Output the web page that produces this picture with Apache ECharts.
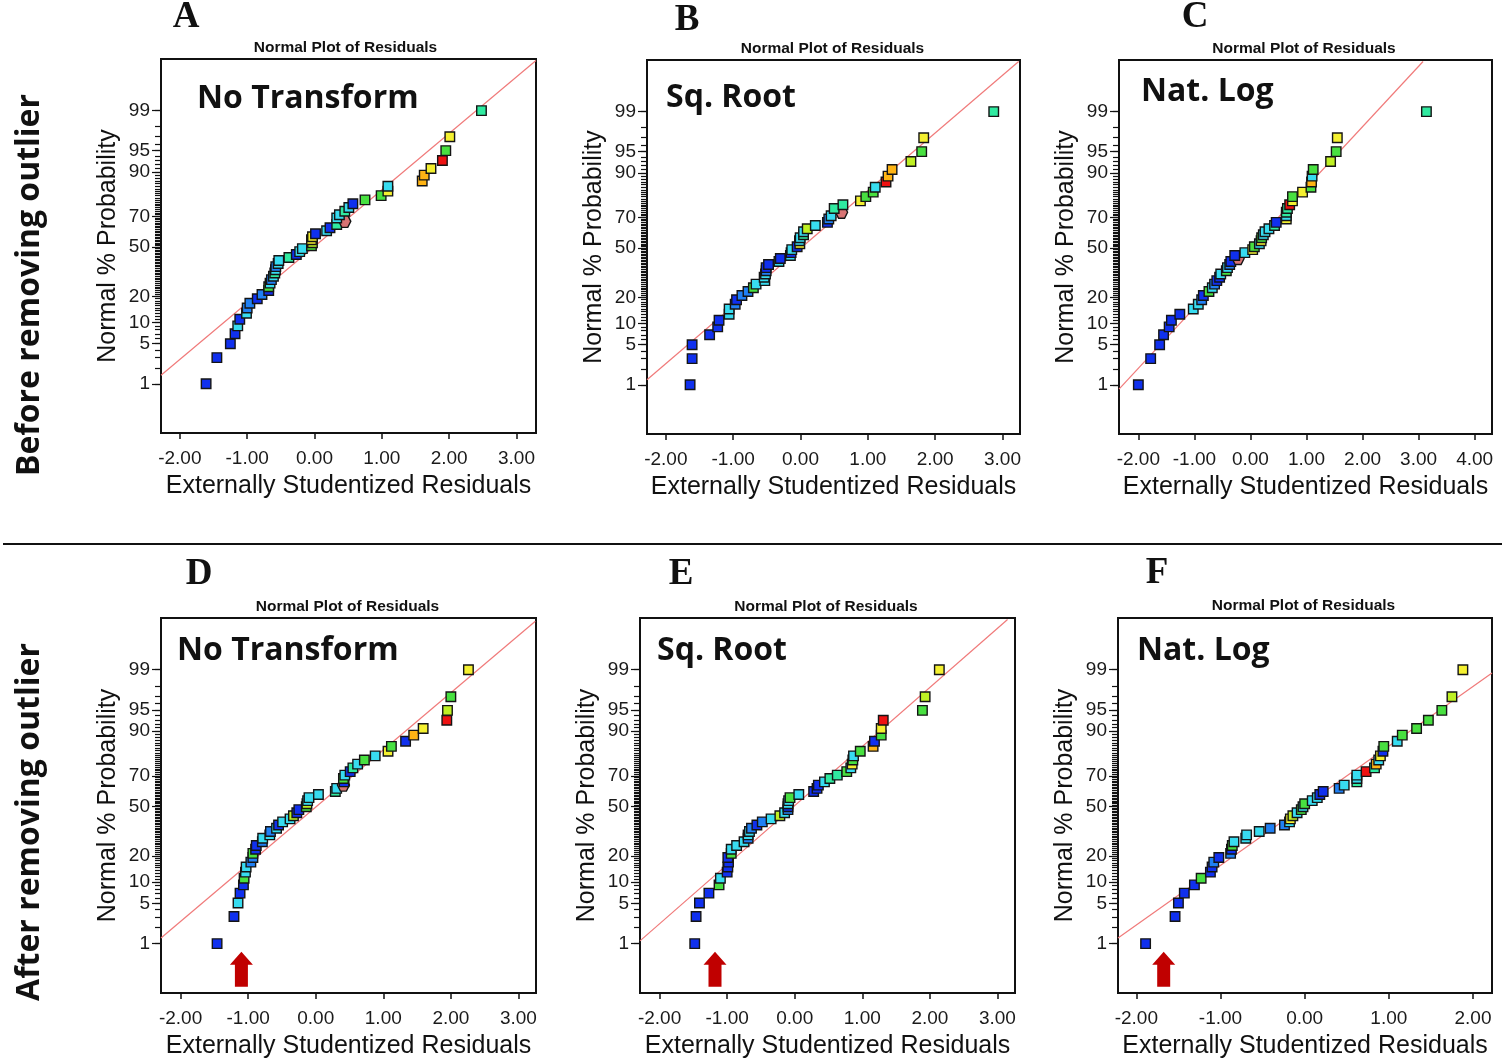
<!DOCTYPE html>
<html><head><meta charset="utf-8">
<script src="https://cdn.jsdelivr.net/npm/echarts@6/dist/echarts.min.js"></script>
<style>html,body{margin:0;padding:0;background:#fff}#c{width:1506px;height:1063px}</style>
</head><body><div id="c"></div>
<script>
// ---------------- DATA ----------------
const pctTop = [1,3,5,7,9,11,13,15,17,19,21,23,25,27,29,31,33,35,37,39,41,43,45,47,49,51,53,55,57,59,61,63,65,67,69,71,73,75,77,79,81,83,85,87,89,91,93,95,97,99];
const pctBottom = [1.0,3.1,5.1,7.1,9.2,11.2,13.3,15.3,17.3,19.4,21.4,23.5,25.5,27.6,29.6,31.6,33.7,35.7,37.8,39.8,41.8,43.9,45.9,48.0,50.0,52.0,54.1,56.1,58.2,60.2,62.2,64.3,66.3,68.4,70.4,72.4,74.5,76.5,78.6,80.6,82.7,84.7,86.7,88.8,90.8,92.9,94.9,96.9,99.0];

const residA = [-1.61,-1.45,-1.25,-1.18,-1.14,-1.11,-1.01,-1.00,-0.96,-0.85,-0.78,-0.68,-0.68,-0.66,-0.64,-0.61,-0.59,-0.58,-0.575,-0.54,-0.53,-0.38,-0.27,-0.22,-0.18,-0.045,-0.03,-0.045,-0.03,0.015,0.18,0.23,0.33,0.45,0.33,0.37,0.45,0.51,0.57,0.75,0.99,1.09,1.09,1.60,1.63,1.73,1.90,1.95,2.01,2.48];
const colorA = [0,0,0,0,2,0,2,1,1,0,1,0,4,2,1,2,3,2,1,2,2,3,0,2,2,4,5,6,6,0,2,0,3,9,2,2,3,2,0,4,4,6,2,7,7,6,8,4,6,3];

const residB = [-1.64,-1.61,-1.61,-1.35,-1.23,-1.21,-1.06,-1.06,-0.97,-0.95,-0.87,-0.78,-0.70,-0.66,-0.53,-0.54,-0.52,-0.51,-0.51,-0.475,-0.32,-0.30,-0.15,-0.14,-0.13,-0.05,-0.01,-0.015,-0.005,0.045,0.045,0.10,0.22,0.40,0.42,0.455,0.61,0.50,0.63,0.89,0.97,1.08,1.11,1.27,1.30,1.36,1.64,1.80,1.83,2.87];
const colorB = [0,0,0,0,0,0,2,2,1,0,1,1,4,2,2,2,2,1,0,0,2,0,2,0,2,0,6,2,2,3,2,5,2,0,1,2,9,3,3,6,4,4,2,8,7,7,5,4,6,3];

const residC = [-2.0,-1.78,-1.62,-1.55,-1.45,-1.41,-1.26,-1.02,-0.93,-0.87,-0.84,-0.74,-0.68,-0.64,-0.60,-0.55,-0.53,-0.43,-0.41,-0.37,-0.35,-0.22,-0.28,-0.10,0.04,0.07,0.16,0.19,0.20,0.23,0.26,0.33,0.43,0.46,0.64,0.64,0.64,0.66,0.70,0.75,0.75,0.93,1.08,1.09,1.10,1.12,1.43,1.53,1.55,3.14];
const colorC = [0,0,0,0,0,0,0,2,2,1,0,4,2,1,0,0,2,4,2,1,0,9,0,2,6,4,2,6,4,2,2,2,3,0,6,2,3,3,8,6,4,6,4,7,2,4,5,4,6,3];

const residD = [-1.46,-1.21,-1.15,-1.12,-1.07,-1.06,-1.04,-1.03,-0.96,-0.93,-0.93,-0.89,-0.88,-0.79,-0.785,-0.68,-0.67,-0.58,-0.55,-0.49,-0.38,-0.33,-0.28,-0.25,-0.14,-0.13,-0.12,-0.10,0.04,0.29,0.31,0.41,0.42,0.41,0.43,0.51,0.55,0.62,0.72,0.88,1.07,1.12,1.33,1.45,1.59,1.94,1.95,2.00,2.26];
const colorD = [0,0,2,0,0,4,2,2,1,1,4,0,0,1,2,2,1,2,0,2,2,5,0,0,4,5,2,2,2,3,2,9,0,4,2,0,3,2,4,2,6,4,0,7,6,8,5,4,6];

const residE = [-1.48,-1.46,-1.41,-1.27,-1.12,-1.10,-1.00,-0.99,-0.98,-0.99,-0.94,-0.94,-0.86,-0.75,-0.69,-0.69,-0.67,-0.64,-0.56,-0.48,-0.35,-0.22,-0.15,-0.10,-0.10,-0.10,-0.09,-0.07,0.06,0.28,0.33,0.35,0.44,0.52,0.63,0.77,0.83,0.85,0.86,0.87,0.97,1.16,1.18,1.28,1.28,1.31,1.89,1.93,2.14];
const colorE = [0,0,0,0,4,2,0,0,0,0,4,2,2,2,1,2,2,1,0,1,2,5,2,1,0,2,2,4,2,0,0,0,2,3,3,4,2,6,4,2,4,7,0,4,6,8,4,5,6];

const residF = [-1.89,-1.54,-1.50,-1.43,-1.31,-1.23,-1.12,-1.10,-1.08,-1.02,-0.88,-0.87,-0.86,-0.84,-0.70,-0.69,-0.54,-0.41,-0.24,-0.18,-0.17,-0.14,-0.09,-0.04,-0.02,0.00,0.09,0.15,0.18,0.22,0.41,0.47,0.62,0.62,0.62,0.73,0.83,0.85,0.88,0.90,0.93,0.94,1.10,1.16,1.33,1.47,1.63,1.75,1.88];
const colorF = [0,0,0,0,0,4,0,0,1,0,1,0,4,2,2,2,2,1,1,2,6,5,2,4,2,4,2,2,0,0,1,2,3,2,2,8,3,7,2,6,0,4,2,4,4,4,4,5,6];

// reference line end points: [residual, normal score]
const refA = [[-2.28,-2.18],[3.29,3.18]];
const refB = [[-2.28,-2.24],[3.24,3.18]];
const refC = [[-2.345,-2.40],[3.08,3.18]];
const refD = [[-2.29,-2.23],[3.25,3.15]];
const refE = [[-2.29,-2.28],[3.15,3.18]];
const refF = [[-2.218,-2.23],[2.226,2.27]];

// arrows (residual position) marking the removed outlier
const arrowD = -1.10, arrowE = -1.18, arrowF = -1.675;

const letters = ['A','B','C','D','E','F'];
const transforms = ['No Transform','Sq. Root','Nat. Log','No Transform','Sq. Root','Nat. Log'];
const xTicksAB = [-2,-1,0,1,2,3];
const xTicksC = [-2,-1,0,1,2,3,4];
const xTicksF = [-2,-1,0,1,2];
const yLabelPct = [1,5,10,20,50,70,90,95,99];
const rowLabels = ['Before removing outlier','After removing outlier'];
const plotTitle = 'Normal Plot of Residuals';
const xName = 'Externally Studentized Residuals';
const yName = 'Normal % Probability';

// ---------------- helpers ----------------
function probit(p){
  const a=[-3.969683028665376e+01,2.209460984245205e+02,-2.759285104469687e+02,1.383577518672690e+02,-3.066479806614716e+01,2.506628277459239e+00];
  const b=[-5.447609879822406e+01,1.615858368580409e+02,-1.556989798598866e+02,6.680131188771972e+01,-1.328068155288572e+01];
  const c=[-7.784894002430293e-03,-3.223964580411365e-01,-2.400758277161838e+00,-2.549732539343734e+00,4.374664141464968e+00,2.938163982698783e+00];
  const d=[7.784695709041462e-03,3.224671290700398e-01,2.445134137142996e+00,3.754408661907416e+00];
  const pl=0.02425, ph=1-pl; let q,r;
  if(p<pl){q=Math.sqrt(-2*Math.log(p));return (((((c[0]*q+c[1])*q+c[2])*q+c[3])*q+c[4])*q+c[5])/((((d[0]*q+d[1])*q+d[2])*q+d[3])*q+1);}
  if(p<=ph){q=p-0.5;r=q*q;return (((((a[0]*r+a[1])*r+a[2])*r+a[3])*r+a[4])*r+a[5])*q/(((((b[0]*r+b[1])*r+b[2])*r+b[3])*r+b[4])*r+1);}
  q=Math.sqrt(-2*Math.log(1-p));return -(((((c[0]*q+c[1])*q+c[2])*q+c[3])*q+c[4])*q+c[5])/((((d[0]*q+d[1])*q+d[2])*q+d[3])*q+1);
}
const palette = ['#1030ee','#2080f4','#38dcf0','#30eaa0','#48e040','#bff024','#f4f030','#ffb414','#ee1212','#d87474'];
const hexPath = 'path://M5,0 L15,0 L20,8.66 L15,17.32 L5,17.32 L0,8.66 Z';
const arrowPath = 'path://M11.5,0 L23,13 L18,13 L18,35 L5,35 L5,13 L0,13 Z';

const panels = [
  {res:residA, col:colorA, pct:pctTop, ref:refA, xt:xTicksAB, grid:{left:161,top:59,width:375,height:374}, xr:[-2.28,3.29], arrow:null},
  {res:residB, col:colorB, pct:pctTop, ref:refB, xt:xTicksAB, grid:{left:647,top:60,width:373,height:374}, xr:[-2.28,3.26], arrow:null},
  {res:residC, col:colorC, pct:pctTop, ref:refC, xt:xTicksC, grid:{left:1119,top:60,width:373,height:374}, xr:[-2.345,4.31], arrow:null},
  {res:residD, col:colorD, pct:pctBottom, ref:refD, xt:xTicksAB, grid:{left:161,top:618,width:375,height:375}, xr:[-2.29,3.26], arrow:arrowD},
  {res:residE, col:colorE, pct:pctBottom, ref:refE, xt:xTicksAB, grid:{left:640,top:618,width:375,height:375}, xr:[-2.29,3.26], arrow:arrowE},
  {res:residF, col:colorF, pct:pctBottom, ref:refF, xt:xTicksF, grid:{left:1118,top:618,width:374,height:375}, xr:[-2.218,2.226], arrow:arrowF}
];
const yMin = -3.165, yMax = 3.205;
const minorPct = []; for (let k=1;k<=99;k++) minorPct.push(k);
const minorZ = minorPct.map(p=>probit(p/100));
const majorZ = yLabelPct.map(p=>probit(p/100));
function yLabelFmt(v){
  let best=0, bd=1e9;
  majorZ.forEach((z,i)=>{const d=Math.abs(z-v); if(d<bd){bd=d;best=i;}});
  return String(yLabelPct[best]);
}
const labelFont = 'Liberation Sans';
const grids=[], xAxes=[], yAxes=[], series=[];
panels.forEach((P,i)=>{
  grids.push(Object.assign({show:true, borderColor:'#111', borderWidth:2, backgroundColor:'transparent'}, P.grid));
  xAxes.push({
    type:'value', gridIndex:i, min:P.xr[0], max:P.xr[1],
    name:xName, nameLocation:'middle', nameGap:41,
    nameTextStyle:{fontFamily:labelFont, fontSize:25, color:'#111'},
    axisLine:{show:true, onZero:false, lineStyle:{color:'#111', width:2}},
    axisTick:{show:true, length:6, inside:false, customValues:P.xt, lineStyle:{color:'#111', width:1.5}},
    axisLabel:{show:true, margin:16, customValues:P.xt, fontFamily:labelFont, fontSize:19, color:'#1a1a1a', formatter:v=>v.toFixed(2)},
    splitLine:{show:false}
  });
  // main y axis: labels + minor ticks
  yAxes.push({
    type:'value', gridIndex:i, min:yMin, max:yMax, position:'left',
    name:yName, nameLocation:'middle', nameGap:40,
    nameTextStyle:{fontFamily:labelFont, fontSize:25, color:'#111'},
    axisLine:{show:true, onZero:false, lineStyle:{color:'#111', width:2}},
    axisTick:{show:true, length:6, inside:false, customValues:minorZ, lineStyle:{color:'#111', width:1.2}},
    axisLabel:{show:true, margin:11, customValues:majorZ, fontFamily:labelFont, fontSize:19, color:'#1a1a1a', formatter:yLabelFmt},
    splitLine:{show:false}
  });
  // helper y axis carrying longer major ticks, shifted onto the left edge
  yAxes.push({
    type:'value', gridIndex:i, min:yMin, max:yMax, position:'right', offset:-P.grid.width,
    axisLine:{show:false, onZero:false},
    axisTick:{show:true, length:9, inside:true, customValues:majorZ, lineStyle:{color:'#111', width:1.2}},
    axisLabel:{show:false},
    splitLine:{show:false}
  });
  series.push({
    type:'line', xAxisIndex:i, yAxisIndex:2*i, data:P.ref, symbol:'none', silent:true,
    lineStyle:{color:'#f07a7a', width:1.2}, z:2, animation:false, clip:true
  });
  const pts = P.res.map((x,k)=>{
    const c = P.col[k];
    const item = {value:[x, probit(P.pct[k]/100)], itemStyle:{color:palette[c]}};
    if (c===9) { item.symbol = hexPath; item.symbolSize = 12; }
    return item;
  });
  const s = {
    type:'scatter', xAxisIndex:i, yAxisIndex:2*i, data:pts, symbol:'rect', symbolSize:9.5,
    itemStyle:{borderColor:'#141414', borderWidth:1.4, opacity:1}, z:3, animation:false
  };
  if (P.arrow!==null) {
    s.markPoint = {
      symbol:arrowPath, symbolSize:[23,35], symbolKeepAspect:false, silent:true,
      itemStyle:{color:'#c00000', borderWidth:0}, label:{show:false},
      data:[{coord:[P.arrow, -2.76]}]
    };
  }
  series.push(s);
});

const graphics = [];
const letterPos = [[186,17],[687,20],[1195,17],[199,574],[681,574],[1157,573]];
letters.forEach((L,i)=>graphics.push({type:'text', style:{text:L, x:letterPos[i][0], y:letterPos[i][1], font:'bold 37px "Liberation Serif"', fill:'#111', textAlign:'center', textVerticalAlign:'middle'}}));
const titlePos = [[345.5,47.5],[832.5,49],[1304,49],[347.5,606.5],[826,607],[1303.5,606]];
titlePos.forEach(p=>graphics.push({type:'text', style:{text:plotTitle, x:p[0], y:p[1], font:'bold 15.5px "Liberation Sans"', fill:'#111', textAlign:'center', textVerticalAlign:'middle'}}));
const trPos = [[197,99],[666,98],[1141,91.5],[177,651],[657,651],[1137,651]];
transforms.forEach((t,i)=>graphics.push({type:'text', z:10, style:{text:t, x:trPos[i][0], y:trPos[i][1], font:'bold 32px "Open Sans"', fill:'#111', textAlign:'left', textVerticalAlign:'middle'}}));
const rowPos = [[30,285],[30,822]];
rowLabels.forEach((t,i)=>graphics.push({type:'text', x:rowPos[i][0], y:rowPos[i][1], rotation:Math.PI/2, style:{text:t, x:0, y:0, font:'bold 32px "Open Sans"', fill:'#111', textAlign:'center', textVerticalAlign:'middle'}}));
graphics.push({type:'line', shape:{x1:3, y1:544, x2:1502, y2:544}, style:{stroke:'#111', lineWidth:2}});

const chart = echarts.init(document.getElementById('c'), null, {renderer:'canvas'});
chart.setOption({
  backgroundColor:'#fff', animation:false,
  grid:grids, xAxis:xAxes, yAxis:yAxes, series:series, graphic:graphics
});
</script></body></html>
